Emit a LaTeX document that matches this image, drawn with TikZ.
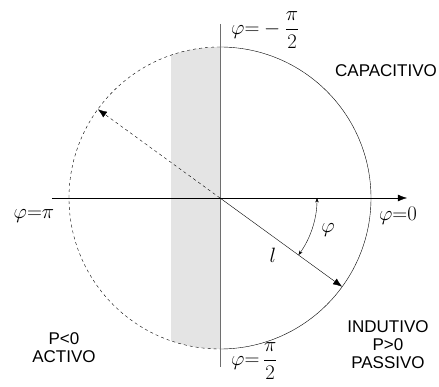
\documentclass[tikz,border=0pt]{standalone}
\usepackage{fontspec}
\setsansfont{Liberation Sans}
\usetikzlibrary{arrows.meta,positioning,calc}
\usepackage{xcolor}
\definecolor{bandgray}{HTML}{E4E4E4}
\definecolor{axisgray}{HTML}{6E6E6E}
\tikzset{
  vec/.style={-{Latex[length=3.2mm,width=2.4mm]}, thin, draw=black},
  dvec/.style={vec, dashed},
  anglearc/.style={{Stealth[length=1.6mm,width=1.2mm]}-{Stealth[length=1.6mm,width=1.2mm]}, thin},
  mathlbl/.style={font=\fontsize{20}{22}\selectfont, inner sep=1pt},
  zonelbl/.style={font=\sffamily\fontsize{17}{18}\selectfont, align=center, inner sep=1pt}
}

\begin{document}
\begin{tikzpicture}[x=1pt, y=1pt]
  \useasboundingbox (-220,-189) rectangle (219,198);
  \coordinate (O) at (0,0);
  \coordinate (top) at (0,174);
  \coordinate (bot) at (0,-169);
  \coordinate (left) at (-168,0);
  \coordinate (right) at (187,0);
  \coordinate (gen) at (144:151);
  \coordinate (load) at (-36:151);
  \coordinate (arcA) at (-36:97);
  \coordinate (arcB) at (0:97);
  % shaded band inside the circle
  \begin{scope}
    \clip (O) circle (151);
    \fill[bandgray] (-49,-160) rectangle (0,160);
  \end{scope}
  % circle: solid on the passive side, dashed on the active side
  \draw[thin] (0,151) arc (90:-90:151);
  \draw[thin, dashed] (0,151) arc (90:270:151);
  % axes
  \draw[axisgray, semithick] (top) -- (bot);
  \draw[vec] (left) -- (right);
  % vectors
  \draw[vec] (O) -- (load);
  \draw[dvec] (O) -- (gen);
  \draw[anglearc] (arcA) arc (-36:0:97);
  % labels
  \node[mathlbl, anchor=west] (mpi2) at (10,168) {$\displaystyle\varphi{=}-\frac{\pi}{2}$};
  \node[mathlbl, anchor=west] (ppi2) at (10,-163) {$\displaystyle\varphi{=}\,\frac{\pi}{2}$};
  \node[mathlbl] (phipi) at (-186,-18) {$\varphi{=}\pi$};
  \node[mathlbl] (phi0) at (178,-18) {$\varphi{=}0$};
  \node[mathlbl] (phi) at (108,-32) {$\varphi$};
  \node[mathlbl] (ell) at (53,-57) {$l$};
  \node[zonelbl] (cap) at (166,127) {CAPACITIVO};
  \node[zonelbl] (ind) at (168,-147) {INDUTIVO\\P>0\\PASSIVO};
  \node[zonelbl] (act) at (-156,-150) {P<0\\ACTIVO};
\end{tikzpicture}
\end{document}
